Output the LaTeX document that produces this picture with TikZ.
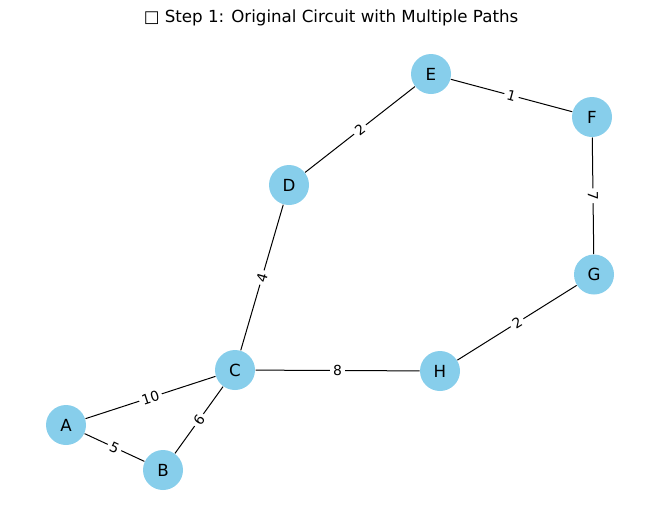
\documentclass[tikz,border=0pt]{standalone}
\usepackage{fontspec}
\setmainfont{DejaVu Sans}
\usetikzlibrary{positioning}

\begin{document}
\begin{tikzpicture}[x=0.75pt,y=-0.75pt,line width=0.75pt,
	vert/.style={circle,fill=skyblue,minimum size=30pt,inner sep=0pt,font=\fontsize{12.5}{14}\selectfont},
	wt/.style={midway,sloped,fill=white,inner sep=2.2pt,font=\fontsize{10.4}{12}\selectfont}]
	\definecolor{skyblue}{HTML}{87CEEB}
	\useasboundingbox (0,0) rectangle (660,522);
	\node (title) at (331,18) {\fontsize{12.5}{14}\selectfont □ Step 1: Original Circuit with Multiple Paths};
	\node[vert] (A) at (66, 425) {A};
	\node[vert] (B) at (163, 470) {B};
	\node[vert] (C) at (235, 370) {C};
	\node[vert] (D) at (289, 185) {D};
	\node[vert] (E) at (431, 74) {E};
	\node[vert] (F) at (592, 117) {F};
	\node[vert] (G) at (594, 274.5) {G};
	\node[vert] (H) at (440, 371) {H};
	\draw (A) to node[wt] {10} (C);
	\draw (A) to node[wt] {5} (B);
	\draw (B) to node[wt] {6} (C);
	\draw (C) to node[wt] {4} (D);
	\draw (D) to node[wt] {2} (E);
	\draw (E) to node[wt] {1} (F);
	\draw (F) to node[wt] {7} (G);
	\draw (G) to node[wt] {2} (H);
	\draw (C) to node[wt] {8} (H);
\end{tikzpicture}
\end{document}
